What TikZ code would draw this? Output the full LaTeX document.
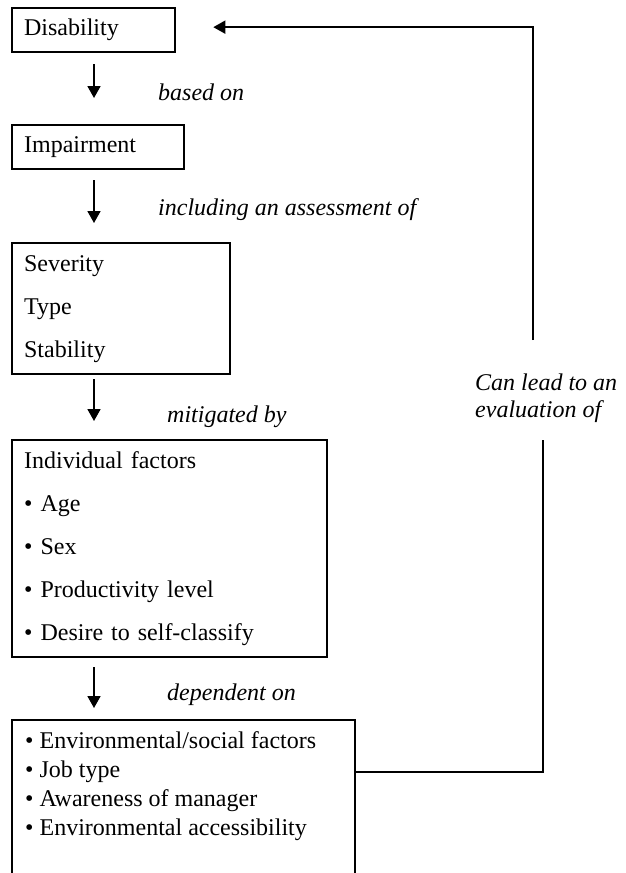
\documentclass[tikz,border=0pt]{standalone}
\usepackage{fontspec}
\setmainfont{Liberation Serif}
\usepackage{tikz}
\usetikzlibrary{arrows.meta,calc}

\begin{document}
\begin{tikzpicture}[
    x=1pt, y=-1pt,
    nosep/.style={inner sep=0},
    box/.style={
        draw, rectangle, line width=2.3pt, anchor=north west,
        inner xsep=12pt, inner ysep=0, align=left,
        font=\fontsize{24}{43}\selectfont},
    note/.style={anchor=west, nosep, font=\fontsize{24}{27}\selectfont\itshape},
    flow/.style={draw, line width=1.8pt, -{Triangle[length=12pt, width=13pt]}},
    link/.style={draw, line width=1.6pt}]
\useasboundingbox (0,0) rectangle (625,873);
\clip (0,0) rectangle (625,873);

\coordinate (ax) at (94,0);
\coordinate (evaltop) at (533,340);
\coordinate (evalbot) at (543,440);
\coordinate (jobrow) at (0,772);

\node[box, text width=139pt, minimum height=44pt] (disability) at (11,7) {Disability};
\node[box, text width=148pt, minimum height=44pt] (impairment) at (11,124) {Impairment};
\node[box, text width=194pt, minimum height=131pt] (severity) at (11,242) {Severity\\Type\\Stability};
\node[box, text width=291pt, minimum height=217pt] (individual) at (11,439) {Individual factors\\• Age\\• Sex\\• Productivity level\\• Desire to self-classify};
\node[box, minimum width=343pt, minimum height=200pt] (environment) at (11,719) {};
\node[anchor=north west, nosep, align=left, font=\fontsize{24}{29}\selectfont] (envlist) at (25,731) {• Environmental/social factors\\• Job type\\• Awareness of manager\\• Environmental accessibility};

\node[note] (basedon) at (158,92) {based on};
\node[note] (assessment) at (158,210) {including an assessment of};
\node[note] (mitigated) at (167,417) {mitigated by};
\node[note] (dependent) at (167,695) {dependent on};
\node[note, align=left] (evaluation) at (475,398) {Can lead to an\\evaluation of};

\path[flow, shorten <=11pt, shorten >=26pt] (disability.south -| ax) -- (impairment.north -| ax);
\path[flow, shorten <=10pt, shorten >=19pt] (impairment.south -| ax) -- (severity.north -| ax);
\path[flow, shorten <=4pt, shorten >=18pt] (severity.south -| ax) -- (individual.north -| ax);
\path[flow, shorten <=9pt, shorten >=11pt] (individual.south -| ax) -- (environment.north -| ax);

\path[flow, shorten >=37pt] (evaltop) |- ([yshift=3pt]disability.east);
\path[link] (environment.east |- jobrow) -| (evalbot);



\end{tikzpicture}
\end{document}
